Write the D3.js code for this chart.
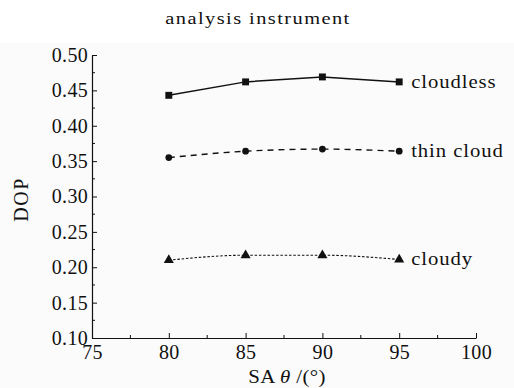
<!DOCTYPE html>
<html>
<head>
<meta charset="utf-8">
<script src="https://cdn.jsdelivr.net/npm/d3@7/dist/d3.min.js"></script>
<style>
  body { margin: 0; background: #fff; }
  svg text { font-family: "Liberation Serif", "DejaVu Serif", serif; fill: #111; }
</style>
</head>
<body>
<div id="chart"></div>
<script>
const angles = [80, 85, 90, 95];
const cloudless = [0.443, 0.462, 0.469, 0.462];
const thinCloud = [0.355, 0.364, 0.367, 0.364];
const cloudy = [0.210, 0.217, 0.217, 0.211];
const seriesNames = ["cloudless", "thin cloud", "cloudy"];
const xTicks = [75, 80, 85, 90, 95, 100];
const yTicks = [0.10, 0.15, 0.20, 0.25, 0.30, 0.35, 0.40, 0.45, 0.50];

const W = 514, H = 388;
const margin = { top: 55, right: 38, bottom: 50, left: 92 };
const width = W - margin.left - margin.right;
const height = H - margin.top - margin.bottom;

const root = d3.select("#chart").append("svg")
  .attr("width", W).attr("height", H);

// light plot background under title band
root.append("rect").attr("x", 0).attr("y", 43).attr("width", W).attr("height", H - 43)
  .attr("fill", "#fbfbfb");

// the original font (Computer Modern) is wider than Times, so stretch a bit
root.append("text")
  .attr("transform", "translate(" + (W / 2 + 1) + ",24) scale(1.2,1)")
  .attr("text-anchor", "middle")
  .style("font-size", "17px")
  .style("letter-spacing", "1.2px")
  .attr("fill", "#222")
  .text("analysis instrument");

const svg = root.append("g")
  .attr("transform", "translate(" + margin.left + "," + margin.top + ")");

const x = d3.scaleLinear().domain([75, 100]).range([0, width]);
const y = d3.scaleLinear().domain([0.10, 0.50]).range([height, 0]);

// minor ticks
const xMinor = d3.range(77.5, 100, 5);
const yMinor = d3.range(0.125, 0.5, 0.05);

const xAxis = svg.append("g")
  .attr("transform", "translate(0," + height + ")")
  .call(d3.axisBottom(x).tickValues(xTicks).tickSizeInner(-5).tickSizeOuter(0).tickPadding(9).tickFormat(d3.format("d")));
svg.append("g")
  .attr("transform", "translate(0," + height + ")")
  .selectAll("line").data(xMinor).enter().append("line")
  .attr("x1", d => x(d)).attr("x2", d => x(d)).attr("y1", 0).attr("y2", -3)
  .attr("stroke", "#111");

const yAxis = svg.append("g")
  .call(d3.axisLeft(y).tickValues(yTicks).tickSizeInner(-5).tickSizeOuter(0).tickPadding(4).tickFormat(d3.format(".2f")));
svg.append("g")
  .selectAll("line").data(yMinor).enter().append("line")
  .attr("x1", 0).attr("x2", 3).attr("y1", d => y(d)).attr("y2", d => y(d))
  .attr("stroke", "#111");

[xAxis, yAxis].forEach(a => {
  a.select(".domain").attr("stroke", "#111").attr("stroke-width", 1.2);
  a.selectAll(".tick line").attr("stroke", "#111");
  a.selectAll("text").style("font-size", "20px").style("letter-spacing", "0.3px").attr("fill", "#111");
});
xAxis.selectAll("text").attr("dy", "0.6em");

// axis titles
root.append("text")
  .attr("transform", "translate(28," + (margin.top + height / 2 + 3) + ") rotate(-90)")
  .attr("text-anchor", "middle")
  .style("font-size", "20px")
  .style("letter-spacing", "1.5px")
  .text("DOP");

const xl = root.append("text")
  .attr("transform", "translate(" + (margin.left + width / 2 + 3) + ",383) scale(1.1,1)")
  .attr("text-anchor", "middle")
  .style("font-size", "19px")
  .style("letter-spacing", "0.3px");
xl.append("tspan").text("SA ");
xl.append("tspan").style("font-style", "italic").text("θ");
xl.append("tspan").text(" /(°)");

const data = [cloudless, thinCloud, cloudy];
const dashes = [null, "6,5", "2.5,1.8"];
const curves = [d3.curveLinear, d3.curveMonotoneX, d3.curveMonotoneX];
const widths = [1.5, 1.4, 1.1];
const symbols = [d3.symbolSquare, d3.symbolCircle, d3.symbolTriangle];
const symSizes = [48, 36, 44];

data.forEach((vals, k) => {
  const pts = angles.map((a, i) => [a, vals[i]]);
  svg.append("path")
    .datum(pts)
    .attr("fill", "none")
    .attr("stroke", "#111")
    .attr("stroke-width", widths[k])
    .attr("stroke-dasharray", dashes[k])
    .attr("d", d3.line().curve(curves[k]).x(d => x(d[0])).y(d => y(d[1])));
  svg.selectAll(".m" + k).data(pts).enter().append("path")
    .attr("transform", d => "translate(" + x(d[0]) + "," + y(d[1]) + ")")
    .attr("d", d3.symbol().type(symbols[k]).size(symSizes[k]))
    .attr("fill", "#111");
  const last = pts[pts.length - 1];
  svg.append("text")
    .attr("transform", "translate(" + (x(last[0]) + 12) + "," + y(last[1]) + ") scale(1.15,1)")
    .attr("dy", "0.33em")
    .style("font-size", "18px")
    .style("letter-spacing", "0.8px")
    .text(seriesNames[k]);
});
</script>
</body>
</html>
